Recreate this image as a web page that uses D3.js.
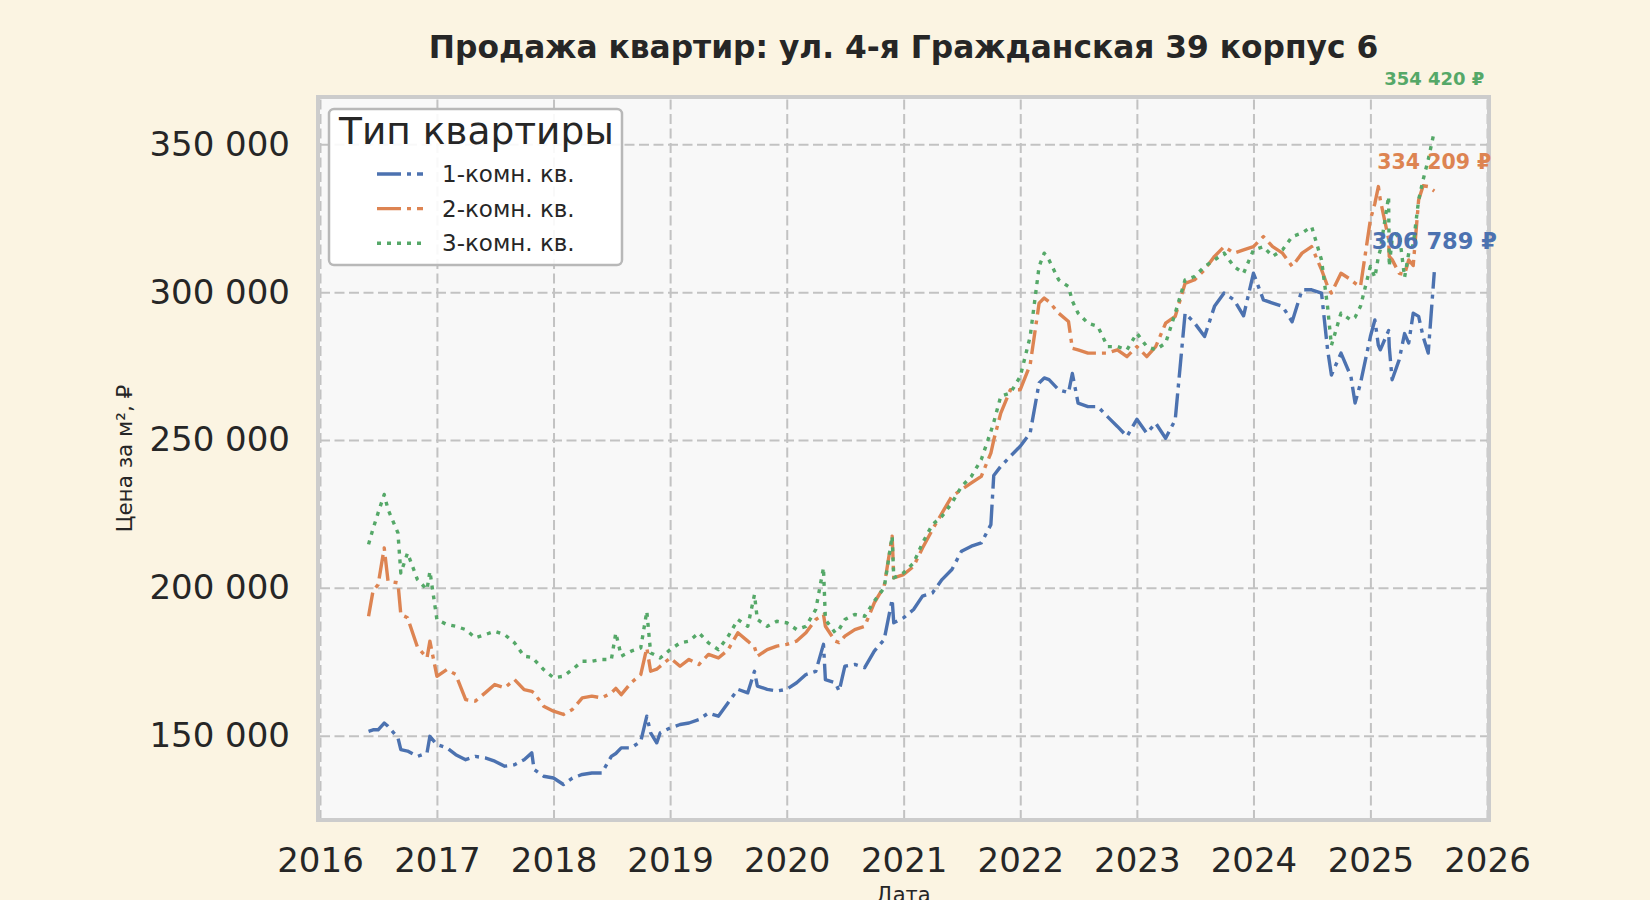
<!DOCTYPE html>
<html>
<head>
<meta charset="utf-8">
<script src="https://cdn.jsdelivr.net/npm/d3@7"></script>
<style>
  body { margin: 0; background: #fbf4e2; }
  text { font-family: "DejaVu Sans", sans-serif; }
</style>
</head>
<body>
<svg id="chart"></svg>
<script>
// observation dates (month starts plus a few mid-month spikes)
const dates = [
  "2016-06-01","2016-06-15","2016-07-01","2016-07-20","2016-08-01","2016-09-01","2016-09-10","2016-10-01","2016-11-01","2016-12-01",
  "2016-12-10","2017-01-01","2017-02-01","2017-03-01","2017-04-01","2017-05-01","2017-06-01","2017-07-01","2017-08-01","2017-09-01",
  "2017-10-01","2017-10-25","2017-11-01","2017-12-01","2018-01-01","2018-02-01","2018-03-01","2018-04-01","2018-05-01","2018-06-01",
  "2018-07-01","2018-07-15","2018-08-01","2018-09-01","2018-10-01","2018-10-20","2018-11-01","2018-11-20","2018-12-01","2019-01-01",
  "2019-02-01","2019-03-01","2019-04-01","2019-05-01","2019-06-01","2019-07-01","2019-08-01","2019-09-01","2019-09-22","2019-10-01",
  "2019-11-01","2019-12-01","2020-01-01","2020-02-01","2020-03-01","2020-04-01","2020-04-25","2020-05-01","2020-06-01","2020-06-13",
  "2020-07-01","2020-08-01","2020-09-01","2020-10-01","2020-11-01","2020-11-26","2020-12-01","2021-01-01","2021-02-01","2021-03-01",
  "2021-04-01","2021-05-01","2021-06-01","2021-07-01","2021-08-01","2021-09-01","2021-10-01","2021-10-10","2021-11-01","2021-12-01",
  "2022-01-01","2022-02-01","2022-03-01","2022-03-17","2022-04-01","2022-05-01","2022-06-01","2022-06-13","2022-07-01","2022-08-01",
  "2022-09-01","2022-10-01","2022-11-01","2022-12-01","2023-01-01","2023-02-01","2023-03-01","2023-04-01","2023-05-01","2023-06-01",
  "2023-07-01","2023-08-01","2023-09-01","2023-10-01","2023-11-01","2023-12-01","2024-01-01","2024-02-01","2024-03-01","2024-04-01",
  "2024-05-01","2024-06-01","2024-07-01","2024-08-01","2024-08-20","2024-09-01","2024-10-01","2024-11-01","2024-11-14","2024-12-01",
  "2025-01-01","2025-01-15","2025-01-26","2025-02-01","2025-02-27","2025-03-01","2025-03-10","2025-04-01","2025-04-18","2025-05-01",
  "2025-05-15","2025-06-01","2025-06-15","2025-07-01","2025-07-20"
];

const oneRoom = [
  151500,152000,152000,154300,153200,149300,145300,144800,143000,144200,
  149800,147000,145900,143600,141900,143000,142500,141400,139700,140200,
  141900,144200,138600,136300,135700,133500,135700,136900,137400,137400,
  143000,144000,145900,145900,148100,156600,151000,147600,151000,152600,
  153800,154300,155500,157700,156600,161100,165700,164500,171800,166800,
  165700,165100,165700,167900,170700,171800,180900,169000,167900,165100,
  173500,174100,173000,178600,182500,196100,188200,189900,192700,197200,
  198300,202800,206200,212400,214100,215200,221400,238000,241100,244500,
  247900,252400,269300,271000,270400,267000,266000,272500,262500,261300,
  261300,257900,254600,251200,257000,252300,255700,250600,256800,292900,
  289500,285000,295200,299700,297400,292000,306400,297400,296300,295200,
  290000,300800,300800,299700,280500,272000,279400,271500,262500,269200,
  285000,290600,282000,280500,287000,281600,270400,277100,286000,282800,
  292900,291800,285000,279400,306789
];

const twoRoom = [
  190400,199000,201100,213500,202300,201700,191000,189900,180000,176300,
  182000,170100,172400,170700,162200,161700,164500,167300,166200,169000,
  165600,165000,164500,160000,158300,157200,158900,162800,163400,162800,
  164500,166000,163900,167900,170700,179700,171800,172500,173500,176300,
  173500,175800,174100,177500,176300,179000,184800,182000,180000,176900,
  179100,180300,180900,182000,184800,189300,191000,187000,182000,181500,
  183700,185900,187000,194900,200600,217500,203400,204500,207300,213500,
  219700,225300,231000,233200,235500,237700,245600,250000,259100,267000,
  267000,275500,296300,298000,296800,292900,290100,281000,280500,279400,
  279400,279400,280500,278200,281600,278200,281600,289500,291800,303000,
  304200,307600,312100,315400,313200,314300,315400,318800,315400,313200,
  308700,313200,315400,307600,302000,299700,306400,304200,303000,301900,
  324500,330000,335700,331200,318000,312100,311000,306400,306000,310900,
  309000,331200,336000,335700,334209
];

const threeRoom = [
  214700,220000,225400,231600,226500,218600,205000,211800,202800,199400,
  205600,189300,187600,187000,185900,183100,184200,185300,184200,181400,
  176900,176500,175800,172400,169600,170100,172400,175200,175200,175800,
  175800,184800,176900,178600,179700,192100,178000,177000,176300,179100,
  181400,182000,184800,181400,179100,183500,189300,187000,197700,189300,
  187000,188700,188200,185900,187000,192700,206800,189300,184800,186000,
  189300,191000,190400,195500,200000,217500,203400,205100,208400,215200,
  221400,224200,228700,234300,237700,243400,252900,256000,264800,265900,
  271500,285000,308700,313200,310900,304200,301900,297000,292900,289500,
  288400,281600,281600,280500,286100,281600,280500,282800,292900,304200,
  305300,308700,310900,313200,308700,306400,314300,315400,312100,314300,
  318800,320000,322200,310900,295000,282000,292900,290600,291500,295200,
  308700,305000,312000,314300,332400,308700,318000,320000,305000,313200,
  316000,331200,338000,344800,354420
];

const seriesNames = ["1-комн. кв.", "2-комн. кв.", "3-комн. кв."];
const seriesColors = ["#4c72b0", "#dd8452", "#55a868"];
const yTicks = [150000, 200000, 250000, 300000, 350000];
const xTickYears = [2016, 2017, 2018, 2019, 2020, 2021, 2022, 2023, 2024, 2025, 2026];

const width = 1650;
const height = 900;
const plot = { left: 320, right: 1487, top: 97, bottom: 820 };
const ink = "#262626";

const parse = d3.timeParse("%Y-%m-%d");
const dateObjs = dates.map(parse);
const ru = d3.formatLocale({ decimal: ",", thousands: " ", grouping: [3], currency: ["", ""] });
const fmt = ru.format(",d");

const svg = d3.select("#chart")
  .attr("width", width)
  .attr("height", height)
  .style("background", "#fbf4e2");

const x = d3.scaleTime()
  .domain([new Date(2016, 0, 1), new Date(2026, 0, 1)])
  .range([plot.left, plot.right]);

const y = d3.scaleLinear()
  .domain([121500, 366000])
  .range([plot.bottom, plot.top]);

// plot background
svg.append("rect")
  .attr("x", plot.left - 2)
  .attr("y", plot.top)
  .attr("width", plot.right - plot.left + 4)
  .attr("height", plot.bottom - plot.top)
  .attr("fill", "#f8f8f8");

// grid
const xTicks = xTickYears.map(yr => new Date(yr, 0, 1));

svg.append("g")
  .attr("transform", `translate(0,${plot.bottom})`)
  .call(d3.axisBottom(x).tickValues(xTicks).tickSize(-(plot.bottom - plot.top)).tickFormat(""))
  .call(g => g.select(".domain").remove())
  .call(g => g.selectAll("line")
    .attr("stroke", "#c2c2c2")
    .attr("stroke-width", 2)
    .attr("stroke-dasharray", "10 4.5"));

svg.append("g")
  .attr("transform", `translate(${plot.left},0)`)
  .call(d3.axisLeft(y).tickValues(yTicks).tickSize(-(plot.right - plot.left)).tickFormat(""))
  .call(g => g.select(".domain").remove())
  .call(g => g.selectAll("line")
    .attr("stroke", "#c2c2c2")
    .attr("stroke-width", 2)
    .attr("stroke-dasharray", "10 4.5"));

// lines
const allSeries = [oneRoom, twoRoom, threeRoom];
const dashes = ["24 6 4 6", "24 6 4 6", "4 6"];

const line = d3.line()
  .x((d, i) => x(dateObjs[i]))
  .y(d => y(d));

allSeries.forEach((vals, k) => {
  svg.append("path")
    .datum(vals)
    .attr("fill", "none")
    .attr("stroke", seriesColors[k])
    .attr("stroke-width", 3.4)
    .attr("stroke-dasharray", dashes[k])
    .attr("stroke-linejoin", "round")
    .attr("d", line);
});

// frame
svg.append("rect")
  .attr("x", plot.left - 2)
  .attr("y", plot.top)
  .attr("width", plot.right - plot.left + 4)
  .attr("height", plot.bottom - plot.top)
  .attr("fill", "none")
  .attr("stroke", "#cccccc")
  .attr("stroke-width", 4);

// axes text
svg.append("g")
  .attr("transform", `translate(${plot.left},0)`)
  .call(d3.axisLeft(y).tickValues(yTicks).tickSize(0).tickPadding(30).tickFormat(fmt))
  .call(g => g.select(".domain").remove())
  .call(g => g.selectAll("text")
    .attr("fill", ink)
    .style("font-size", "34px")
    .style("font-family", "DejaVu Sans"));

svg.append("g")
  .attr("transform", `translate(0,${plot.bottom})`)
  .call(d3.axisBottom(x).tickValues(xTicks).tickSize(0).tickPadding(28).tickFormat(d3.timeFormat("%Y")))
  .call(g => g.select(".domain").remove())
  .call(g => g.selectAll("text")
    .attr("fill", ink)
    .style("font-size", "34px")
    .style("font-family", "DejaVu Sans"));

// title and axis labels
svg.append("text")
  .attr("x", (plot.left + plot.right) / 2)
  .attr("y", 58)
  .attr("text-anchor", "middle")
  .attr("fill", ink)
  .style("font-size", "31.3px")
  .style("font-weight", "bold")
  .text("Продажа квартир: ул. 4-я Гражданская 39 корпус 6");

svg.append("text")
  .attr("transform", `translate(132,${(plot.top + plot.bottom) / 2}) rotate(-90)`)
  .attr("text-anchor", "middle")
  .attr("fill", ink)
  .style("font-size", "21.5px")
  .text("Цена за м², ₽");

svg.append("text")
  .attr("x", (plot.left + plot.right) / 2)
  .attr("y", 902)
  .attr("text-anchor", "middle")
  .attr("fill", ink)
  .style("font-size", "21px")
  .text("Дата");

// last value labels
const labelSizes = [22.5, 20.5, 18];
const labelLift = [31, 29, 53];
allSeries.forEach((vals, k) => {
  const last = vals.length - 1;
  svg.append("text")
    .attr("x", x(dateObjs[last]))
    .attr("y", y(vals[last]) - labelLift[k])
    .attr("dy", "0.35em")
    .attr("text-anchor", "middle")
    .attr("fill", seriesColors[k])
    .style("font-size", labelSizes[k] + "px")
    .style("font-weight", "bold")
    .text(fmt(vals[last]) + " ₽");
});

// legend
const legend = svg.append("g").attr("transform", "translate(329,109)");
legend.append("rect")
  .attr("width", 293)
  .attr("height", 156)
  .attr("rx", 5)
  .attr("fill", "#ffffff")
  .attr("fill-opacity", 0.9)
  .attr("stroke", "#b8b8b8")
  .attr("stroke-width", 2.5);

legend.append("text")
  .attr("x", 10)
  .attr("y", 35)
  .attr("fill", ink)
  .style("font-size", "37.5px")
  .text("Тип квартиры");

seriesNames.forEach((name, k) => {
  const ly = 65 + k * 34.6;
  legend.append("line")
    .attr("x1", 48).attr("x2", 94)
    .attr("y1", ly).attr("y2", ly)
    .attr("stroke", seriesColors[k])
    .attr("stroke-width", 3.4)
    .attr("stroke-dasharray", dashes[k]);
  legend.append("text")
    .attr("x", 113)
    .attr("y", ly + 8)
    .attr("fill", ink)
    .style("font-size", "23px")
    .text(name);
});
</script>
</body>
</html>
